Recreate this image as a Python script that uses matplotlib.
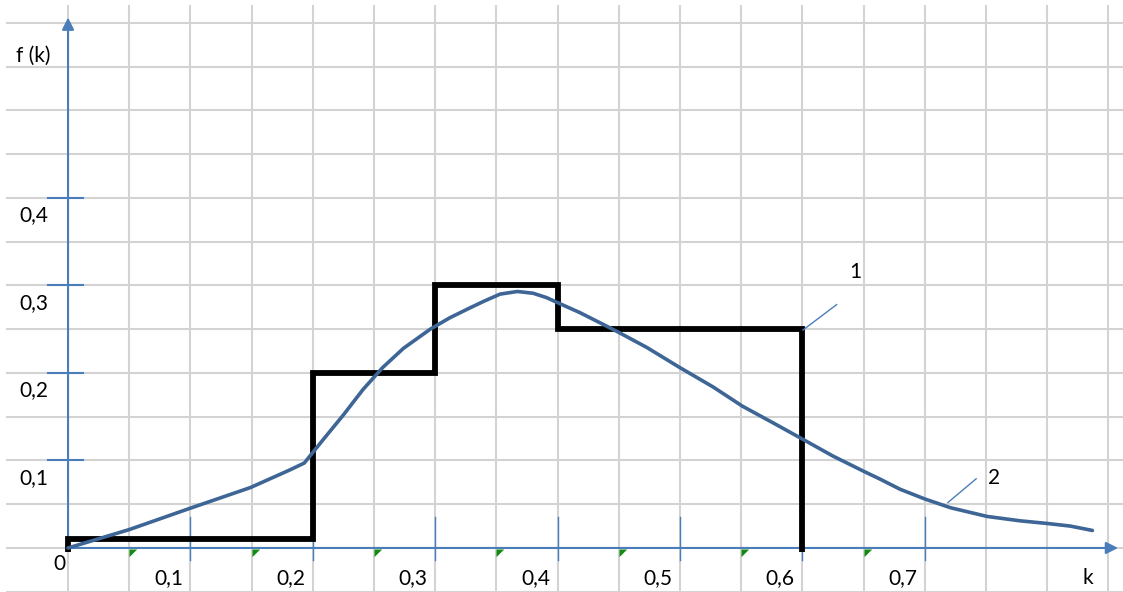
import numpy as np
import matplotlib
matplotlib.use("Agg")
import matplotlib.pyplot as plt

# step function (histogram), curve 1
step_edges = [0.0, 0.2, 0.3, 0.4, 0.6]
step_heights = [0.01, 0.2, 0.3, 0.25]

# smooth density, curve 2
curve_k = [0.0, 0.05, 0.099, 0.149, 0.181, 0.193, 0.208, 0.225, 0.241, 0.257,
           0.274, 0.296, 0.312, 0.328, 0.340, 0.353, 0.367, 0.380, 0.391,
           0.402, 0.418, 0.435, 0.449, 0.473, 0.500, 0.527, 0.551, 0.576,
           0.598, 0.625, 0.651, 0.663, 0.680, 0.700, 0.721, 0.751, 0.778,
           0.800, 0.819, 0.837]
curve_f = [0.0, 0.021, 0.045, 0.069, 0.089, 0.097, 0.123, 0.152, 0.181, 0.206,
           0.228, 0.250, 0.263, 0.274, 0.282, 0.290, 0.293, 0.291, 0.286,
           0.279, 0.269, 0.257, 0.247, 0.229, 0.206, 0.184, 0.162, 0.143,
           0.126, 0.105, 0.087, 0.079, 0.067, 0.056, 0.046, 0.036, 0.031,
           0.028, 0.025, 0.020]

x_ticks = [0.1, 0.2, 0.3, 0.4, 0.5, 0.6, 0.7]
x_tick_labels = ["0,1", "0,2", "0,3", "0,4", "0,5", "0,6", "0,7"]
y_ticks = [0.1, 0.2, 0.3, 0.4]
y_tick_labels = ["0,1", "0,2", "0,3", "0,4"]
marks_k = [0.05, 0.15, 0.25, 0.35, 0.45, 0.55, 0.65]

axis_blue = "#4a7ebb"
curve_blue = "#3d6595"
grid_grey = "#d3d3d3"
font = ["Lato", "DejaVu Sans"]
fs = 15

fig = plt.figure(figsize=(11.23, 5.92), dpi=100)
ax = fig.add_axes([0, 0, 1, 1])
ax.set_xlim(-0.0556, 0.862)
ax.set_ylim(-0.0503, 0.626)
ax.axis("off")

# squared paper
for gx in np.arange(0, 0.86, 0.05):
    ax.plot([gx, gx], [-0.06, 0.619], color=grid_grey, lw=1.5, zorder=1)
for gy in np.arange(-0.05, 0.61, 0.05):
    ax.plot([-0.05, 0.87], [gy, gy], color=grid_grey, lw=1.5, zorder=1)

# axes with arrows
ax.annotate("", xy=(0, 0.606), xytext=(0, 0),
            arrowprops=dict(arrowstyle="-|>", color=axis_blue, lw=1.5,
                            mutation_scale=18, shrinkA=0, shrinkB=0), zorder=3)
ax.annotate("", xy=(0.858, 0), xytext=(0, 0),
            arrowprops=dict(arrowstyle="-|>", color=axis_blue, lw=1.5,
                            mutation_scale=18, shrinkA=0, shrinkB=0), zorder=3)

for t in y_ticks:
    ax.plot([-0.0163, 0.0123], [t, t], color=axis_blue, lw=1.5, zorder=3)
for t in x_ticks:
    ax.plot([t, t], [-0.014, 0.035], color=axis_blue, lw=1.0, zorder=3)

# small green marks under the axis
ax.plot(marks_k, [-0.001] * len(marks_k), ls="none",
        marker=[(0, 0), (1, 0), (0, -1), (0, 0)], markersize=11,
        color="#138a13", markeredgewidth=0, zorder=3)

# histogram and curve
ax.stairs(step_heights, step_edges, baseline=-0.005, color="black", lw=4.2, zorder=4)
ax.plot(curve_k, curve_f, color=curve_blue, lw=2.6, zorder=5,
        solid_joinstyle="round", solid_capstyle="round")

# leader lines and numbers
ax.plot([0.6005, 0.628], [0.249, 0.278], color=axis_blue, lw=1.0, zorder=5)
ax.plot([0.719, 0.742], [0.052, 0.079], color=axis_blue, lw=1.0, zorder=5)
ax.text(0.643, 0.315, "1", fontsize=fs, family=font, ha="center", va="center")
ax.text(0.757, 0.080, "2", fontsize=fs, family=font, ha="center", va="center")

# labels
for t, lab in zip(y_ticks, y_tick_labels):
    ax.text(-0.028, t - 0.02, lab, fontsize=fs, family=font, ha="center", va="center")
for t, lab in zip(x_ticks, x_tick_labels):
    ax.text(t - 0.018, -0.034, lab, fontsize=fs, family=font, ha="center", va="center")
ax.text(-0.0074, -0.018, "0", fontsize=fs, family=font, ha="center", va="center")
ax.text(0.833, -0.034, "k", fontsize=fs, family=font, ha="center", va="center")
ax.text(-0.0286, 0.562, "f (k)", fontsize=fs, family=font, ha="center", va="center")

fig.savefig("out.png", dpi=100)
